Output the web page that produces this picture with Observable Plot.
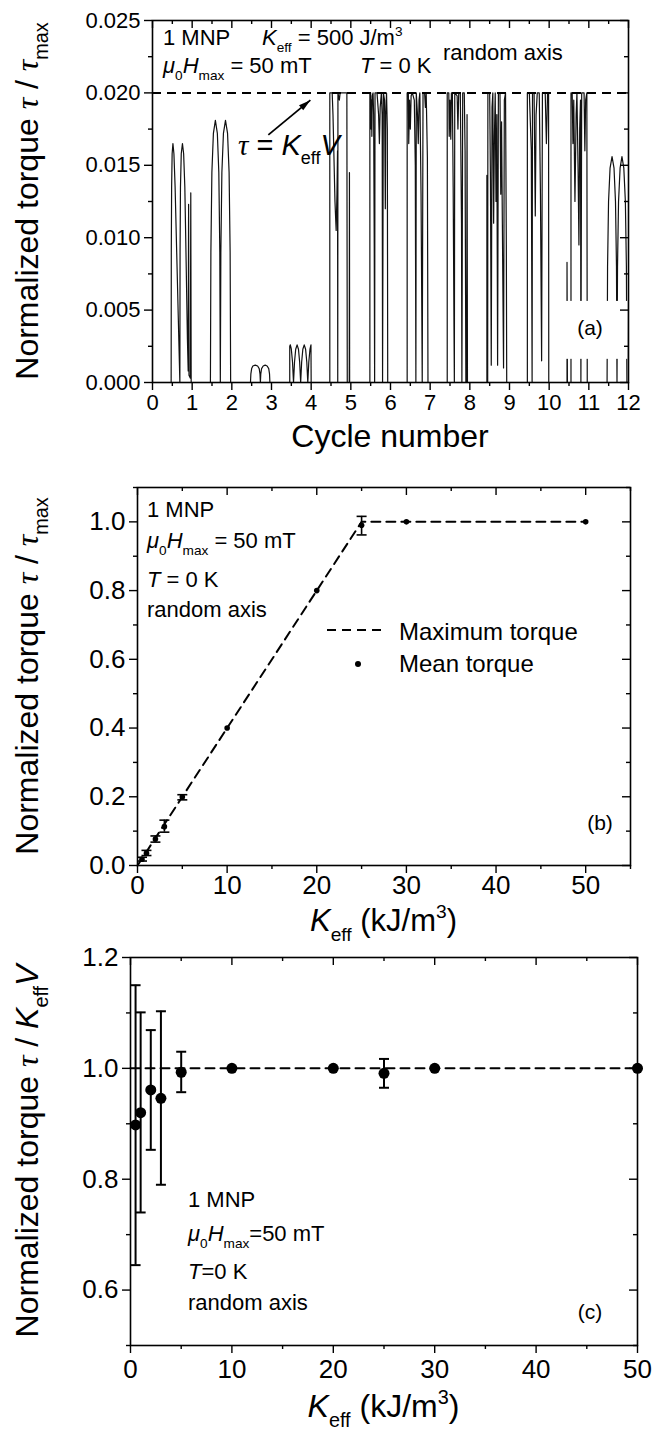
<!DOCTYPE html>
<html>
<head>
<meta charset="utf-8">
<script src="https://cdn.jsdelivr.net/npm/d3@7"></script>
<script src="https://cdn.jsdelivr.net/npm/@observablehq/plot@0.6"></script>
<style>
  html, body { margin: 0; padding: 0; background: #fff; }
  #fig { position: relative; width: 655px; height: 1438px; overflow: hidden; background: #fff; }
  #fig svg { position: absolute; left: 0; overflow: visible; }
</style>
</head>
<body>
<div id="fig"></div>
<script>
const FONT = '"Liberation Sans", Arial, Helvetica, sans-serif';
const SERIF = '"Liberation Serif", "DejaVu Serif", serif';

// ---------------- (a) torque of one MNP over 12 field cycles ----------------
// each array is one active half-cycle of the trace: [cycle number, τ/τmax]
const halfCycle1 = [[0,0],[0.47,0],[0.474,0.009],[0.482,0.0135],[0.495,0.0158],[0.515,0.0165],[0.54,0.0158],[0.57,0.0135],[0.61,0.009],[0.65,0.0045],[0.69,0],
  [0.695,0.009],[0.705,0.0135],[0.725,0.0158],[0.755,0.0165],[0.785,0.0158],[0.815,0.0135],[0.85,0.008],[0.88,0.003],[0.9,0.0008],
  [0.91,0.0123],[0.92,0.0005],[0.955,0.0003],[0.965,0.0131],[0.975,0]];
const halfCycle2 = [[1.46,0],[1.472,0.009],[1.497,0.0145],[1.535,0.0172],[1.585,0.0181],[1.635,0.0172],[1.672,0.0145],[1.697,0.009],[1.71,0],
  [1.723,0.009],[1.749,0.0145],[1.788,0.0172],[1.84,0.0181],[1.892,0.0172],[1.931,0.0145],[1.957,0.009],[1.97,0]];
const halfCycle3 = [[2.47,0],[2.48,0.0006],[2.5,0.00096],[2.53,0.00114],[2.59,0.0012],[2.65,0.00114],[2.69,0.00096],[2.71,0.0006],[2.72,0],
  [2.73,0.0006],[2.75,0.00096],[2.79,0.00114],[2.84,0.0012],[2.89,0.00114],[2.93,0.00096],[2.95,0.0006],[2.96,0]];
const halfCycle4 = [[3.46,0],[3.46,0.0025],[3.475,0.0026],[3.5,0.0023],[3.53,0.0014],[3.555,0],[3.58,0.0014],[3.61,0.0023],[3.645,0.0026],[3.68,0.0023],
  [3.71,0.0014],[3.735,0],[3.76,0.0014],[3.79,0.0023],[3.825,0.0026],[3.86,0.0023],[3.89,0.0014],[3.915,0],[3.94,0.0014],[3.97,0.0023],[3.995,0.0026],[4.0,0]];
const halfCycle5 = [[4.47,0],[4.47,0.02],[4.53,0.02],[4.55,0.0185],[4.6,0.0125],[4.63,0.0105],[4.65,0.013],[4.665,0.016],[4.67,0],[4.675,0.02],
  [4.71,0.0195],[4.73,0.02],[4.9,0.02],[4.91,0],[4.96,0],[4.965,0.0145],[4.97,0]];
const halfCycle6 = [[5.48,0],[5.48,0.02],[5.5,0.02],[5.51,0.0175],[5.52,0.0195],[5.53,0.017],[5.54,0.0198],[5.56,0.02],[5.575,0.0185],[5.59,0.0095],[5.6,0],
  [5.61,0.02],[5.66,0.02],[5.7,0.0185],[5.72,0.0165],[5.74,0.019],[5.77,0.02],[5.79,0.0185],[5.8,0],[5.82,0.02],[5.85,0.0195],[5.87,0.012],[5.88,0.0185],
  [5.9,0.02],[5.92,0.0175],[5.93,0],[5.95,0]];
const halfCycle7 = [[6.42,0],[6.42,0.02],[6.45,0.02],[6.46,0.0165],[6.48,0.0195],[6.5,0.0175],[6.52,0.0198],[6.55,0.02],[6.6,0.0195],[6.625,0.015],[6.64,0],
  [6.65,0.02],[6.68,0.0185],[6.7,0.0165],[6.72,0.0195],[6.74,0.02],[6.77,0.013],[6.79,0.0045],[6.8,0],[6.82,0.02],[6.86,0.02],[6.88,0.019],[6.9,0.02],
  [6.93,0.0155],[6.945,0],[6.97,0]];
const halfCycle8 = [[7.43,0],[7.43,0.02],[7.47,0.02],[7.48,0.017],[7.5,0.0195],[7.52,0.0168],[7.535,0.02],[7.56,0.02],[7.58,0.0135],[7.6,0.004],[7.61,0],
  [7.62,0.02],[7.68,0.0198],[7.7,0.0175],[7.72,0.02],[7.76,0.02],[7.79,0.011],[7.8,0],[7.82,0.02],[7.86,0.02],[7.88,0.016],[7.9,0],[7.92,0],[7.93,0.0185],[7.94,0]];
const halfCycle9 = [[8.43,0],[8.43,0.0143],[8.435,0],[8.45,0],[8.455,0.02],[8.5,0.02],[8.52,0.014],[8.54,0.0012],[8.56,0.019],[8.58,0.02],[8.6,0.011],
  [8.62,0.017],[8.64,0.02],[8.66,0.0125],[8.68,0.0185],[8.7,0.0012],[8.72,0.02],[8.76,0.02],[8.78,0.013],[8.8,0.018],[8.82,0.011],[8.85,0.001],
  [8.87,0.0195],[8.9,0.02],[8.92,0.0095],[8.93,0],[8.95,0]];
const halfCycle10 = [[9.45,0],[9.45,0.02],[9.5,0.02],[9.55,0.016],[9.57,0],[9.58,0.02],[9.62,0.02],[9.65,0.0115],[9.67,0.0185],[9.7,0.02],[9.75,0.02],
  [9.78,0.013],[9.81,0.0015],[9.83,0.02],[9.9,0.02],[9.93,0.0165],[9.96,0.02],[9.985,0.02],[9.99,0],[10.0,0]];
const halfCycle11 = [[10.45,0],[10.45,0.0083],[10.46,0],[10.55,0],[10.55,0.02],[10.58,0.02],[10.6,0.0165],[10.62,0.0195],[10.65,0.0125],[10.68,0.0185],
  [10.7,0.02],[10.73,0.0145],[10.75,0.0095],[10.77,0.0175],[10.79,0.0195],[10.8,0],[10.82,0.02],[10.88,0.02],[10.9,0.016],[10.92,0.0195],[10.95,0.02],[10.96,0]];
const halfCycle12 = [[11.46,0],[11.472,0.008],[11.497,0.0125],[11.535,0.0148],[11.585,0.0156],[11.635,0.0148],[11.672,0.0125],[11.697,0.008],[11.71,0],
  [11.723,0.008],[11.749,0.0125],[11.788,0.0148],[11.835,0.0156],[11.882,0.0148],[11.921,0.0125],[11.947,0.008],[11.96,0],[12,0]];
const tauKV = [0.020];            // τ = K_eff V for K_eff = 500 J/m³
const cycleTicks = d3.range(0, 13);
const torqueTicksA = [0, 0.005, 0.010, 0.015, 0.020, 0.025];

// ---------------- (b) mean / maximum torque vs K_eff ----------------
const kEffB = [0.5, 1, 2, 3, 5, 10, 20, 25, 30, 50];
const meanTorqueB = [0.018, 0.036, 0.077, 0.113, 0.199, 0.40, 0.80, 0.99, 1.0, 1.0];
const errLowB  = [0.013, 0.029, 0.068, 0.097, 0.191, null, null, 0.962, null, null];
const errHighB = [0.024, 0.044, 0.086, 0.132, 0.206, null, null, 1.016, null, null];
const kMaxLine = [0, 25, 50];
const maxTorqueLine = [0, 1, 1];

// ---------------- (c) mean torque normalised by K_eff V ----------------
const kEffC = [0.5, 1, 2, 3, 5, 10, 20, 25, 30, 50];
const ratioC = [0.898, 0.92, 0.961, 0.946, 0.993, 1.0, 1.0, 0.991, 1.0, 1.0];
const errLowC  = [0.645, 0.74, 0.853, 0.79, 0.957, null, null, 0.965, null, null];
const errHighC = [1.15, 1.101, 1.069, 1.103, 1.03, null, null, 1.017, null, null];
const kRefLine = [0, 50];
const ratioRefLine = [1, 1];

// ---------------- helpers ----------------
const fig = document.getElementById("fig");

// horizontal bar used as error-bar cap
const capSymbol = { draw(ctx, size) { const r = Math.sqrt(size / Math.PI); ctx.moveTo(-r, 0); ctx.lineTo(r, 0); } };
// arrow head with its tip at the origin, pointing up
const headSymbol = { draw(ctx, size) { const r = Math.sqrt(size / Math.PI); ctx.moveTo(0, 0); ctx.lineTo(-0.55 * r, 2 * r); ctx.lineTo(0.55 * r, 2 * r); ctx.closePath(); } };

// Origin-style box: outward ticks bottom/left, inward mirror ticks top/right
function boxTicks({xMajor, xMinor, yMajor, yMinor, fw, fh, major = 8, minor = 4, sw = 1.4}) {
  const o = {stroke: "black", strokeWidth: sw};
  return [
    Plot.tickX(xMajor, {x: d => d, insetTop: fh, insetBottom: -major, ...o}),
    Plot.tickX(xMinor, {x: d => d, insetTop: fh, insetBottom: -minor, ...o}),
    Plot.tickX(xMajor, {x: d => d, insetBottom: fh - major, ...o}),
    Plot.tickX(xMinor, {x: d => d, insetBottom: fh - minor, ...o}),
    Plot.tickY(yMajor, {y: d => d, insetRight: fw, insetLeft: -major, ...o}),
    Plot.tickY(yMinor, {y: d => d, insetRight: fw, insetLeft: -minor, ...o}),
    Plot.tickY(yMajor, {y: d => d, insetLeft: fw - major, ...o}),
    Plot.tickY(yMinor, {y: d => d, insetLeft: fw - minor, ...o}),
    Plot.frame({stroke: "black", strokeWidth: 1.6})
  ];
}

// text with italic / subscript / superscript runs
function rich(svg, x, y, parts, {size = 22, anchor = "start", rotate = 0} = {}) {
  const t = d3.select(svg).append("text")
    .attr("x", x).attr("y", y)
    .attr("font-family", FONT).attr("font-size", size)
    .attr("text-anchor", anchor).attr("fill", "black");
  if (rotate) t.attr("transform", `rotate(${rotate},${x},${y})`);
  let shift = 0;
  for (const p of parts) {
    const [s, st] = typeof p === "string" ? [p, ""] : p;
    const target = st.includes("sub") ? 0.32 * size : st.includes("sup") ? -0.42 * size : 0;
    const ts = t.append("tspan").text(s);
    if (target !== shift) { ts.attr("dy", target - shift); shift = target; }
    if (st.includes("sub") || st.includes("sup")) ts.attr("font-size", 0.62 * size);
    if (st.includes("i")) ts.attr("font-style", "italic");
    if (st.includes("g")) ts.attr("font-family", SERIF);
  }
  return t;
}

function place(svg, top) { svg.style.top = top + "px"; fig.appendChild(svg); return svg; }

// ======================= panel (a) =======================
{
  const W = 655, H = 465, ml = 152, mr = 27, mt = 20, mb = 83;
  const fw = W - ml - mr, fh = H - mt - mb;
  const trace = [halfCycle1, halfCycle2, halfCycle3, halfCycle4, halfCycle5, halfCycle6,
    halfCycle7, halfCycle8, halfCycle9, halfCycle10, halfCycle11, halfCycle12]
    .flat().map(([c, t]) => ({c, t}));
  const labelBox = [{x1: 10.3, x2: 11.985, y1: 0.0016, y2: 0.0056}];
  const arrowFrom = {c: 2.92, t: 0.0171}, arrowTo = {c: 3.98, t: 0.0195};
  const ang = Math.atan2((arrowTo.c - arrowFrom.c) * fw / 12, (arrowTo.t - arrowFrom.t) * fh / 0.025) * 180 / Math.PI;

  const svg = Plot.plot({
    width: W, height: H, marginLeft: ml, marginRight: mr, marginTop: mt, marginBottom: mb,
    style: {fontFamily: FONT, fontSize: "22px", color: "black", background: "transparent"},
    x: {domain: [0, 12]},
    y: {domain: [0, 0.025]},
    marks: [
      Plot.line(trace, {x: "c", y: "t", stroke: "#111", strokeWidth: 1.2}),
      Plot.rect(labelBox, {x1: "x1", x2: "x2", y1: "y1", y2: "y2", fill: "white"}),
      Plot.ruleY(tauKV, {stroke: "black", strokeWidth: 2, strokeDasharray: "9,6"}),
      Plot.link([arrowFrom], {x1: "c", y1: "t", x2: () => arrowTo.c, y2: () => arrowTo.t, stroke: "black", strokeWidth: 1.8}),
      Plot.dot([arrowTo], {x: "c", y: "t", symbol: headSymbol, r: 6, rotate: ang, fill: "black", stroke: "none"}),
      ...boxTicks({xMajor: cycleTicks, xMinor: d3.range(0.5, 12, 1), yMajor: torqueTicksA,
        yMinor: [0.0025, 0.0075, 0.0125, 0.0175, 0.0225], fw, fh}),
      Plot.axisX(cycleTicks, {tickSize: 0, tickPadding: 12, tickFormat: d => d, label: null}),
      Plot.axisY(torqueTicksA, {tickSize: 0, tickPadding: 12, tickFormat: d3.format(".3f"), label: null})
    ]
  });
  place(svg, 0);
  rich(svg, ml + fw / 2, 447, ["Cycle number"], {size: 32, anchor: "middle"});
  rich(svg, 38, mt + fh / 2, ["Normalized torque ", ["τ", "ig"], " / ", ["τ", "ig"], ["max", "sub"]], {size: 32, anchor: "middle", rotate: -90});
  rich(svg, 163, 45, ["1 MNP"]);
  rich(svg, 262, 45, [["K", "i"], ["eff", "sub"], " = 500 J/m", ["3", "sup"]]);
  rich(svg, 163, 73, [["μ", "i"], ["0", "sub"], ["H", "i"], ["max", "sub"], " = 50 mT"]);
  rich(svg, 360, 73, [["T", "i"], " = 0 K"]);
  rich(svg, 443, 60, ["random axis"]);
  rich(svg, 238, 155, [["τ", "ig"], " = ", ["K", "i"], ["eff", "sub"], ["V", "i"]], {size: 29});
  rich(svg, 590, 335, ["(a)"], {size: 21, anchor: "middle"});
}

// ======================= panel (b) =======================
{
  const W = 655, H = 480, ml = 137, mr = 25, mt = 22, mb = 80;
  const fw = W - ml - mr, fh = H - mt - mb;
  const mean = kEffB.map((k, i) => ({k, v: meanTorqueB[i], lo: errLowB[i], hi: errHighB[i]}));
  const bars = mean.filter(d => d.lo != null);
  const maxLine = kMaxLine.map((k, i) => ({k, v: maxTorqueLine[i]}));
  const xMajor = [0, 10, 20, 30, 40, 50];

  const svg = Plot.plot({
    width: W, height: H, marginLeft: ml, marginRight: mr, marginTop: mt, marginBottom: mb,
    style: {fontFamily: FONT, fontSize: "26px", color: "black", background: "transparent"},
    x: {domain: [0, 55]},
    y: {domain: [0, 1.1]},
    marks: [
      Plot.line(maxLine, {x: "k", y: "v", stroke: "black", strokeWidth: 2, strokeDasharray: "9,6"}),
      Plot.ruleX(bars, {x: "k", y1: "lo", y2: "hi", stroke: "black", strokeWidth: 1.6}),
      Plot.dot(bars, {x: "k", y: "lo", symbol: capSymbol, r: 5, fill: "none", stroke: "black", strokeWidth: 1.6}),
      Plot.dot(bars, {x: "k", y: "hi", symbol: capSymbol, r: 5, fill: "none", stroke: "black", strokeWidth: 1.6}),
      Plot.dot(mean, {x: "k", y: "v", r: 2.8, fill: "black"}),
      ...boxTicks({xMajor, xMinor: [5, 15, 25, 35, 45, 55], yMajor: [0, 0.2, 0.4, 0.6, 0.8, 1.0],
        yMinor: [0.1, 0.3, 0.5, 0.7, 0.9, 1.1], fw, fh}),
      Plot.axisX(xMajor, {tickSize: 0, tickPadding: 10, tickFormat: d => d, label: null}),
      Plot.axisY([0, 0.2, 0.4, 0.6, 0.8, 1.0], {tickSize: 0, tickPadding: 12, tickFormat: d3.format(".1f"), label: null})
    ]
  });
  place(svg, 465);
  rich(svg, ml + fw / 2, 466, [["K", "i"], ["eff", "sub"], " (kJ/m", ["3", "sup"], ")"], {size: 31, anchor: "middle"});
  rich(svg, 38, mt + fh / 2, ["Normalized torque ", ["τ", "ig"], " / ", ["τ", "ig"], ["max", "sub"]], {size: 32, anchor: "middle", rotate: -90});
  rich(svg, 147, 52, ["1 MNP"]);
  rich(svg, 147, 83, [["μ", "i"], ["0", "sub"], ["H", "i"], ["max", "sub"], " = 50 mT"]);
  rich(svg, 147, 122, [["T", "i"], " = 0 K"]);
  rich(svg, 147, 152, ["random axis"]);
  // legend
  d3.select(svg).append("line").attr("x1", 327).attr("x2", 382).attr("y1", 165).attr("y2", 165)
    .attr("stroke", "black").attr("stroke-width", 2).attr("stroke-dasharray", "9,6");
  rich(svg, 399, 175, ["Maximum torque"], {size: 24});
  d3.select(svg).append("circle").attr("cx", 358).attr("cy", 199).attr("r", 3).attr("fill", "black");
  rich(svg, 399, 207, ["Mean torque"], {size: 24});
  rich(svg, 600, 365, ["(b)"], {size: 21, anchor: "middle"});
}

// ======================= panel (c) =======================
{
  const W = 655, H = 493, ml = 130, mr = 18, mt = 12, mb = 93;
  const fw = W - ml - mr, fh = H - mt - mb;
  const pts = kEffC.map((k, i) => ({k, v: ratioC[i], lo: errLowC[i], hi: errHighC[i]}));
  const bars = pts.filter(d => d.lo != null);
  const ref = kRefLine.map((k, i) => ({k, v: ratioRefLine[i]}));
  const xMajor = [0, 10, 20, 30, 40, 50];

  const svg = Plot.plot({
    width: W, height: H, marginLeft: ml, marginRight: mr, marginTop: mt, marginBottom: mb,
    style: {fontFamily: FONT, fontSize: "26px", color: "black", background: "transparent"},
    x: {domain: [0, 50]},
    y: {domain: [0.5, 1.2]},
    marks: [
      Plot.line(ref, {x: "k", y: "v", stroke: "black", strokeWidth: 2, strokeDasharray: "9,6"}),
      Plot.ruleX(bars, {x: "k", y1: "lo", y2: "hi", stroke: "black", strokeWidth: 2}),
      Plot.dot(bars, {x: "k", y: "lo", symbol: capSymbol, r: 5, fill: "none", stroke: "black", strokeWidth: 2}),
      Plot.dot(bars, {x: "k", y: "hi", symbol: capSymbol, r: 5, fill: "none", stroke: "black", strokeWidth: 2}),
      Plot.dot(pts, {x: "k", y: "v", r: 5.5, fill: "black"}),
      ...boxTicks({xMajor, xMinor: [5, 15, 25, 35, 45], yMajor: [0.6, 0.8, 1.0, 1.2],
        yMinor: [0.5, 0.7, 0.9, 1.1], fw, fh}),
      Plot.axisX(xMajor, {tickSize: 0, tickPadding: 14, tickFormat: d => d, label: null}),
      Plot.axisY([0.6, 0.8, 1.0, 1.2], {tickSize: 0, tickPadding: 12, tickFormat: d3.format(".1f"), label: null})
    ]
  });
  place(svg, 945);
  rich(svg, ml + fw / 2, 472, [["K", "i"], ["eff", "sub"], " (kJ/m", ["3", "sup"], ")"], {size: 32, anchor: "middle"});
  rich(svg, 38, mt + fh / 2, ["Normalized torque ", ["τ", "ig"], " / ", ["K", "i"], ["eff", "sub"], ["V", "i"]], {size: 32, anchor: "middle", rotate: -90});
  rich(svg, 188, 262, ["1 MNP"]);
  rich(svg, 188, 296, [["μ", "i"], ["0", "sub"], ["H", "i"], ["max", "sub"], "=50 mT"]);
  rich(svg, 188, 334, [["T", "i"], "=0 K"]);
  rich(svg, 188, 365, ["random axis"]);
  rich(svg, 590, 374, ["(c)"], {size: 21, anchor: "middle"});
}
</script>
</body>
</html>
